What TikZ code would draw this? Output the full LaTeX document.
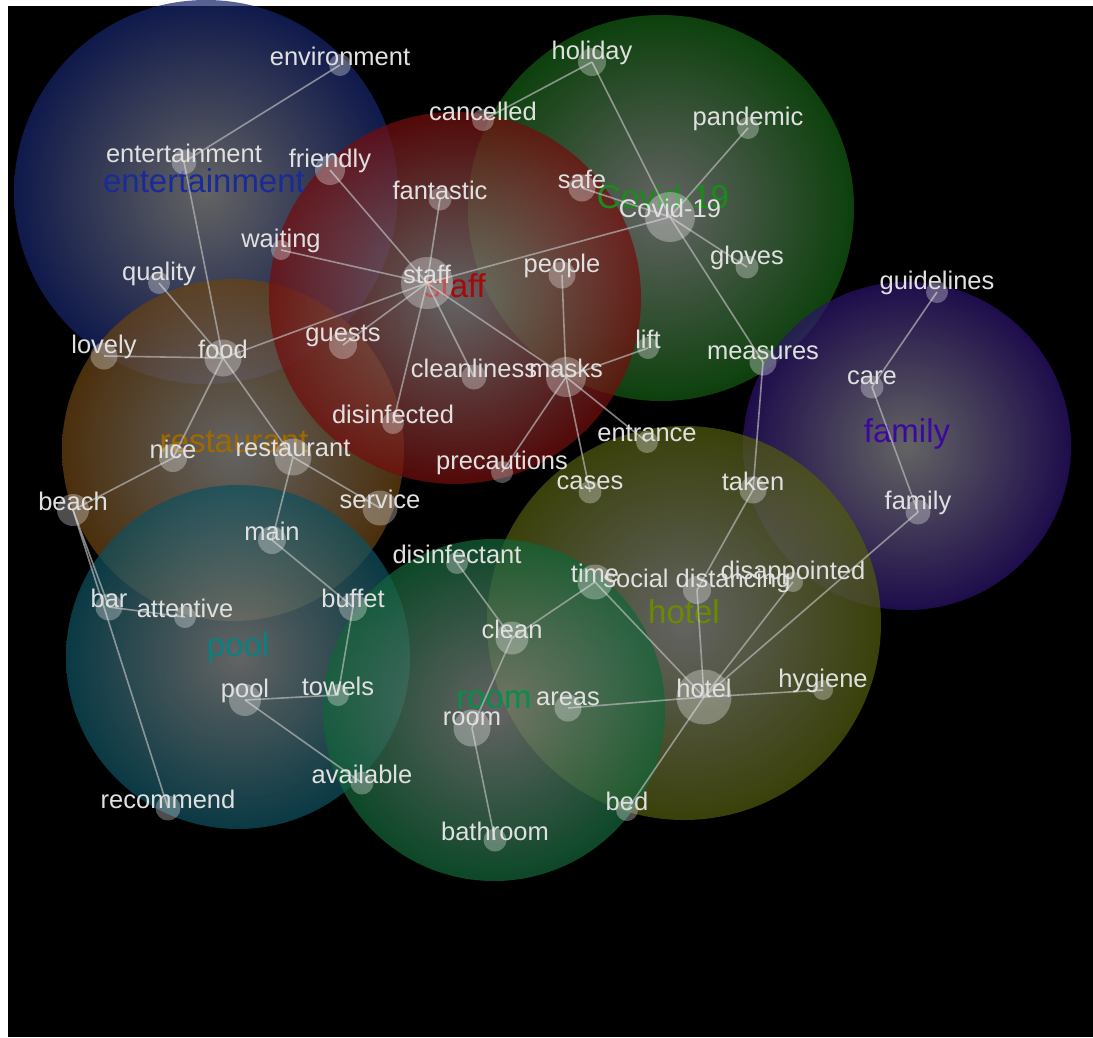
\documentclass[tikz,border=0pt]{standalone}
\usepackage{fontspec}
\setmainfont{Liberation Sans}
\newcommand\wfont{\fontsize{25.5}{28}\selectfont}
\newcommand\cfont{\fontsize{33}{36}\selectfont}
\definecolor{cin}{RGB}{138,138,138}
\definecolor{cEnt}{RGB}{22,36,105} \definecolor{cStaff}{RGB}{115,12,12} \definecolor{cCovid}{RGB}{18,90,18}
\definecolor{cFam}{RGB}{42,18,105} \definecolor{cRest}{RGB}{105,66,18} \definecolor{cPool}{RGB}{14,80,95}
\definecolor{cRoom}{RGB}{18,100,56} \definecolor{cHotel}{RGB}{80,90,14}
\definecolor{tEnt}{RGB}{26,42,150} \definecolor{tStaff}{RGB}{165,10,10} \definecolor{tCovid}{RGB}{25,140,25}
\definecolor{tFam}{RGB}{58,10,160} \definecolor{tRest}{RGB}{160,105,0} \definecolor{tPool}{RGB}{10,128,128}
\definecolor{tRoom}{RGB}{10,140,75} \definecolor{tHotel}{RGB}{106,138,0}
\pgfdeclarelayer{bg} \pgfdeclarelayer{lines} \pgfsetlayers{bg,lines,main}

\begin{document}
\begin{tikzpicture}[x=1pt, y=-1pt,
  dot/.style={circle, fill=white, fill opacity=0.3, inner sep=0pt, minimum size=#1},
  wtxt/.style={yshift=9pt, text=white!88!black, fill opacity=1, text opacity=1, font=\wfont},
  w/.style={label={[wtxt]center:#1}},
  edge/.style={draw=white!72!black, draw opacity=0.7, line width=1.6pt},
  cl/.style={inner color=cin, outer color=#1, fill opacity=0.72},
  ctxt/.style={anchor=base, font=\cfont}]
\useasboundingbox (0,0) rectangle (1093,1037);
\begin{pgfonlayer}{bg}
\fill[white] (0,0) rectangle (1093,1037); \fill[black] (8,6) rectangle (1093,1037);
% topic clusters
\shade[cl=cEnt] (206,192) circle (192pt); \shade[cl=cCovid] (661,208) circle (193pt);
\shade[cl=cRest] (233,450) circle (171pt); \shade[cl=cStaff] (455,298) circle (186pt);
\shade[cl=cFam] (907,446) circle (164pt); \shade[cl=cPool] (238,657) circle (172pt);
\shade[cl=cHotel] (684,623) circle (197pt); \shade[cl=cRoom] (494,710) circle (171pt);
\node[ctxt, text=tEnt] (entL) at (204,192) {entertainment}; \node[ctxt, text=tStaff] (staffL) at (455,297) {staff};
\node[ctxt, text=tCovid] (covidL) at (663,208) {Covid-19}; \node[ctxt, text=tFam] (famL) at (907,442) {family};
\node[ctxt, text=tRest] (restL) at (234,452) {restaurant}; \node[ctxt, text=tPool] (poolL) at (238,656) {pool};
\node[ctxt, text=tRoom] (roomL) at (494,708) {room}; \node[ctxt, text=tHotel] (hotelL) at (684,623) {hotel};
\end{pgfonlayer}
% words
\node[dot=22, w=environment] (environment) at (340,65) {}; \node[dot=25, w=entertainment] (entertainment) at (184,162) {};
\node[dot=30, w=friendly] (friendly) at (330,170) {}; \node[dot=20, w=waiting] (waiting) at (281,250) {};
\node[dot=22, w=quality] (quality) at (159,283) {}; \node[dot=27, w=lovely] (lovely) at (104,356) {};
\node[dot=37, w=food] (food) at (223,358) {}; \node[dot=28, w=guests] (guests) at (343,345) {};
\node[dot=28, w=holiday] (holiday) at (592,62) {}; \node[dot=22, w=cancelled] (cancelled) at (483,120) {};
\node[dot=22, w=pandemic] (pandemic) at (748,128) {}; \node[dot=23, w=fantastic] (fantastic) at (440,199) {};
\node[dot=27, w=safe] (safe) at (582,188) {}; \node[dot=50, w=Covid-19] (covid) at (670,217) {};
\node[dot=23, w=gloves] (gloves) at (747,267) {}; \node[dot=27, w=people] (people) at (562,275) {};
\node[dot=52, w=staff] (staff) at (427,283) {}; \node[dot=22, w=lift] (lift) at (648,348) {};
\node[dot=27, w=measures] (measures) at (763,362) {}; \node[dot=25, w=cleanliness] (cleanliness) at (474,377) {};
\node[dot=40, w=masks] (masks) at (566,377) {}; \node[dot=22, w=guidelines] (guidelines) at (937,292) {};
\node[dot=23, w=care] (care) at (872,387) {}; \node[dot=25, w=family] (family) at (918,512) {};
\node[dot=27, w=taken] (taken) at (753,490) {}; \node[dot=20, w=disappointed] (disappointed) at (793,582) {};
\node[dot=28, w=nice] (nice) at (173,458) {}; \node[dot=37, w=restaurant] (restaurant) at (293,457) {};
\node[dot=32, w=beach] (beach) at (73,510) {}; \node[dot=35, w=service] (service) at (380,508) {};
\node[dot=28, w=main] (main) at (272,540) {}; \node[dot=22, w=disinfected] (disinfected) at (393,423) {};
\node[dot=27, w=bar] (bar) at (109,607) {}; \node[dot=22, w=attentive] (attentive) at (185,617) {};
\node[dot=28, w=buffet] (buffet) at (353,607) {}; \node[dot=32, w=pool] (pool) at (245,700) {};
\node[dot=22, w=towels] (towels) at (338,695) {}; \node[dot=23, w=available] (available) at (362,783) {};
\node[dot=25, w=recommend] (recommend) at (168,808) {}; \node[dot=22, w=entrance] (entrance) at (647,442) {};
\node[dot=22, w=precautions] (precautions) at (502,472) {}; \node[dot=23, w=cases] (cases) at (590,492) {};
\node[dot=22, w=disinfectant] (disinfectant) at (457,563) {}; \node[dot=35, w=time] (time) at (595,582) {};
\node[dot=28, w=social distancing] (social) at (697,590) {}; \node[dot=33, w=clean] (clean) at (512,638) {};
\node[dot=55, w=hotel] (hotel) at (704,697) {}; \node[dot=20, w=hygiene] (hygiene) at (823,690) {};
\node[dot=27, w=areas] (areas) at (568,708) {}; \node[dot=37, w=room] (room) at (472,728) {};
\node[dot=22, w=bed] (bed) at (627,810) {}; \node[dot=23, w=bathroom] (bathroom) at (495,840) {};
% links
\begin{pgfonlayer}{lines}
\draw[edge] (environment.center) -- (entertainment.center); \draw[edge] (entertainment.center) -- (food.center);
\draw[edge] (quality.center) -- (food.center); \draw[edge] (lovely.center) -- (food.center); \draw[edge] (food.center) -- (staff.center);
\draw[edge] (food.center) -- (nice.center); \draw[edge] (food.center) -- (restaurant.center);
\draw[edge] (friendly.center) -- (staff.center); \draw[edge] (waiting.center) -- (staff.center); \draw[edge] (fantastic.center) -- (staff.center);
\draw[edge] (guests.center) -- (staff.center); \draw[edge] (cleanliness.center) -- (staff.center); \draw[edge] (disinfected.center) -- (staff.center);
\draw[edge] (masks.center) -- (staff.center); \draw[edge] (covid.center) -- (staff.center);
\draw[edge] (cancelled.center) -- (holiday.center); \draw[edge] (holiday.center) -- (covid.center); \draw[edge] (pandemic.center) -- (covid.center);
\draw[edge] (safe.center) -- (covid.center); \draw[edge] (gloves.center) -- (covid.center); \draw[edge] (measures.center) -- (covid.center);
\draw[edge] (measures.center) -- (taken.center); \draw[edge] (taken.center) -- (social.center);
\draw[edge] (people.center) -- (masks.center); \draw[edge] (lift.center) -- (masks.center); \draw[edge] (precautions.center) -- (masks.center);
\draw[edge] (cases.center) -- (masks.center); \draw[edge] (entrance.center) -- (masks.center);
\draw[edge] (guidelines.center) -- (care.center); \draw[edge] (care.center) -- (family.center); \draw[edge] (family.center) -- (hotel.center);
\draw[edge] (nice.center) -- (beach.center); \draw[edge] (beach.center) -- (bar.center); \draw[edge] (beach.center) -- (recommend.center);
\draw[edge] (bar.center) -- (attentive.center); \draw[edge] (restaurant.center) -- (main.center); \draw[edge] (restaurant.center) -- (service.center);
\draw[edge] (main.center) -- (buffet.center); \draw[edge] (buffet.center) -- (towels.center); \draw[edge] (towels.center) -- (pool.center);
\draw[edge] (pool.center) -- (available.center); \draw[edge] (disinfectant.center) -- (clean.center); \draw[edge] (clean.center) -- (time.center);
\draw[edge] (clean.center) -- (room.center); \draw[edge] (room.center) -- (bathroom.center); \draw[edge] (time.center) -- (hotel.center);
\draw[edge] (social.center) -- (hotel.center); \draw[edge] (disappointed.center) -- (hotel.center); \draw[edge] (areas.center) -- (hotel.center);
\draw[edge] (hygiene.center) -- (hotel.center); \draw[edge] (bed.center) -- (hotel.center);
\end{pgfonlayer}
\end{tikzpicture}
\end{document}
